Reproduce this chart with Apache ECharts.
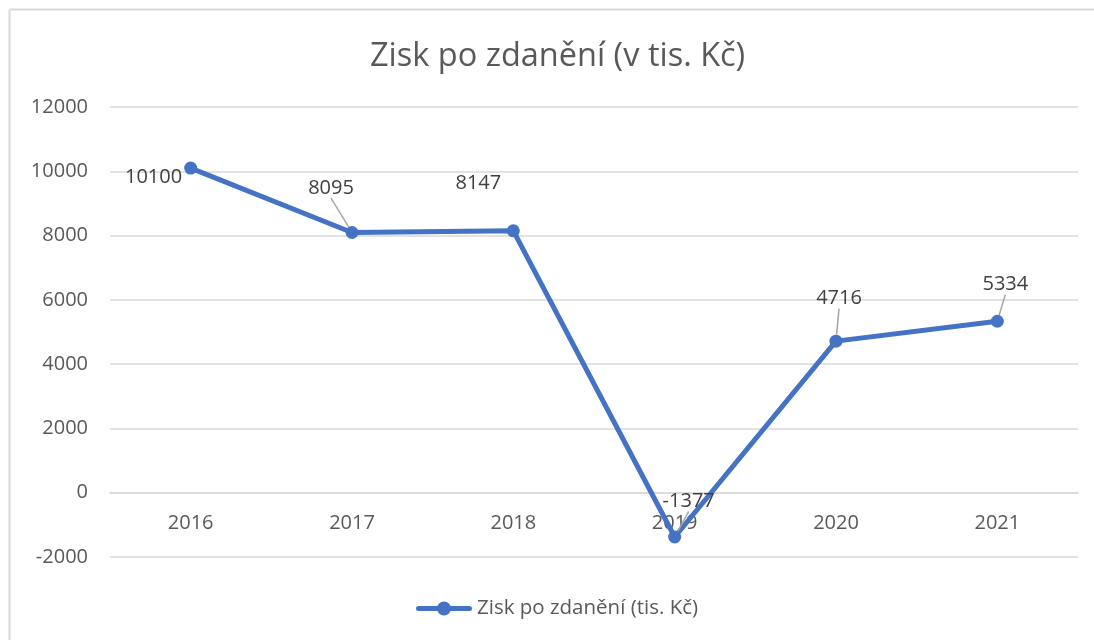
<!DOCTYPE html>
<html>
<head>
<meta charset="utf-8">
<script src="https://cdn.jsdelivr.net/npm/echarts@6/dist/echarts.min.js"></script>
<style>
  html, body { margin: 0; padding: 0; background: #fff; }
  #chart { width: 1094px; height: 640px; }
</style>
</head>
<body>
<div id="chart"></div>
<script>
const years = ['2016', '2017', '2018', '2019', '2020', '2021']
const profit = [10100, 8095, 8147, -1377, 4716, 5334]
const yTicks = { min: -2000, max: 12000, interval: 2000 }

// posun popisku od bodu (jen vzhled)
const labelShift = [
  { dx: 3, dy: 9 },
  { dx: -21, dy: -23 },
  { dx: -35, dy: -26 },
  { dx: 14, dy: -14 },
  { dx: 3, dy: -21 },
  { dx: 8, dy: -15 },
]

const font = '"Open Sans", "Noto Sans", sans-serif'
const legendIcon = 'path://M2.5,4.5 L53.5,4.5 A2.5,2.5 0 0 1 53.5,9.5 L2.5,9.5 A2.5,2.5 0 0 1 2.5,4.5 Z M21,7 A7,7 0 1 1 35,7 A7,7 0 1 1 21,7 Z'

const chart = echarts.init(document.getElementById('chart'), null, { renderer: 'canvas' })

// osa x sedí na nule: vzdálenost nuly od spodku mřížky v pixelech
function zeroOffset() {
  const h = 640 - 107 - 83
  return -h * (0 - yTicks.min) / (yTicks.max - yTicks.min)
}

chart.setOption({
  backgroundColor: '#ffffff',
  animation: false,
  textStyle: { fontFamily: font },
  title: {
    text: 'Zisk po zdanění (v tis. Kč)',
    left: 365,
    top: 35,
    textStyle: { color: '#595959', fontSize: 32.5, fontWeight: 'normal', fontFamily: font },
  },
  graphic: [
    { type: 'line', shape: { x1: 9.5, y1: 9.5, x2: 1094, y2: 9.5 }, style: { stroke: '#d9d9d9', lineWidth: 2 }, silent: true },
    { type: 'line', shape: { x1: 9.5, y1: 9.5, x2: 9.5, y2: 640 }, style: { stroke: '#d9d9d9', lineWidth: 2 }, silent: true },
  ],
  grid: { left: 110, right: 16, top: 107, bottom: 83 },
  legend: {
    bottom: 16,
    left: 411,
    itemWidth: 56,
    itemHeight: 14,
    itemGap: 6,
    icon: legendIcon,
    itemStyle: { color: '#4472c4' },
    textStyle: { color: '#595959', fontSize: 20.5, fontFamily: font, padding: [0, 0, 0, 0] },
    data: ['Zisk po zdanění (tis. Kč)'],
  },
  xAxis: {
    type: 'category',
    data: years,
    boundaryGap: true,
    offset: zeroOffset(),
    axisLine: { show: true, onZero: false, lineStyle: { color: '#d9d9d9', width: 1.5 } },
    axisTick: { show: false },
    axisLabel: { color: '#595959', fontSize: 20, margin: 21, fontFamily: font },
  },
  yAxis: {
    type: 'value',
    min: yTicks.min,
    max: yTicks.max,
    interval: yTicks.interval,
    axisLine: { show: false },
    axisTick: { show: false },
    splitLine: { lineStyle: { color: '#d9d9d9', width: 1.5 } },
    axisLabel: { color: '#595959', fontSize: 20, margin: 22, fontFamily: font, formatter: (v) => String(v) },
  },
  series: [
    {
      name: 'Zisk po zdanění (tis. Kč)',
      type: 'line',
      data: profit.map((v, i) => ({
        value: v,
        label: { position: i === 0 ? 'left' : 'top' },
        labelLine: { show: i !== 0 && i !== 2 },
      })),
      symbol: 'circle',
      symbolSize: 13,
      lineStyle: { color: '#4472c4', width: 5, cap: 'round', join: 'round' },
      itemStyle: { color: '#4472c4' },
      label: {
        show: true,
        color: '#404040',
        fontSize: 20,
        fontFamily: font,
        distance: 5,
      },
      labelLine: { show: true, lineStyle: { color: '#a6a6a6', width: 1.5 } },
      labelLayout: (params) => labelShift[params.dataIndex],
      z: 5,
    },
  ],
})
</script>
</body>
</html>
